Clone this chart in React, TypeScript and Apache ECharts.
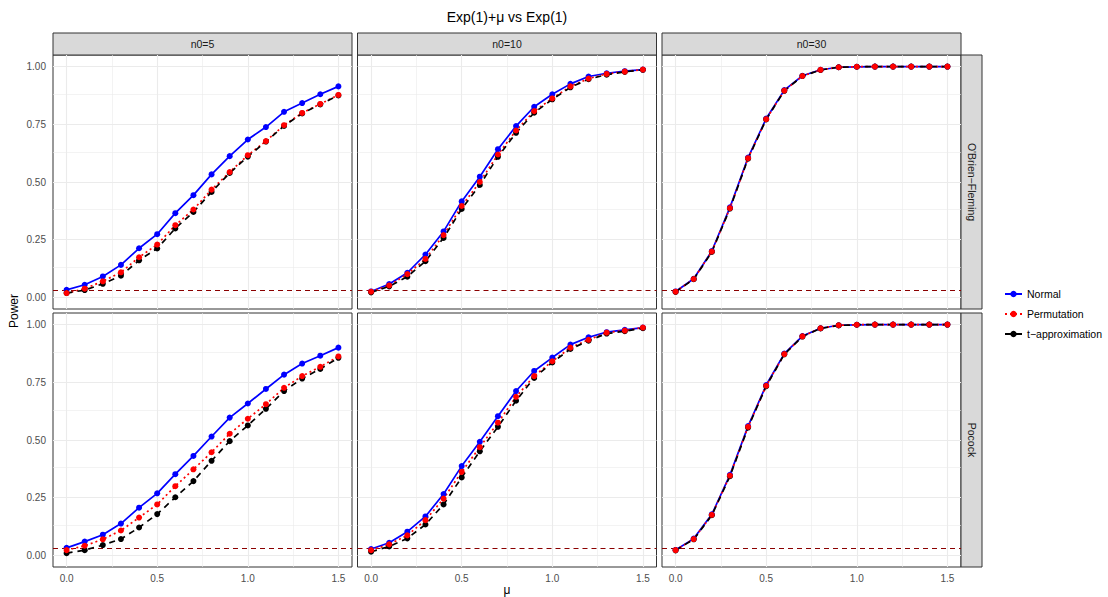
import React, { useEffect, useRef } from "react";
import * as echarts from "echarts";

const mu = [0, 0.1, 0.2, 0.3, 0.4, 0.5, 0.6, 0.7, 0.8, 0.9, 1.0, 1.1, 1.2, 1.3, 1.4, 1.5];
const xTicks = [0, 0.5, 1, 1.5];
const yTicks = [0, 0.25, 0.5, 0.75, 1];
const methods = ["Normal", "Permutation", "t\u2212approximation"];
const colTitles = ["n0=5", "n0=10", "n0=30"];
const rowTitles = ["O'Brien\u2212Fleming", "Pocock"];

const obf5Normal = [0.033, 0.055, 0.091, 0.141, 0.213, 0.274, 0.365, 0.443, 0.533, 0.612, 0.684, 0.738, 0.804, 0.842, 0.880, 0.914];
const obf5Perm = [0.019, 0.038, 0.070, 0.109, 0.174, 0.229, 0.313, 0.381, 0.467, 0.543, 0.616, 0.677, 0.746, 0.799, 0.838, 0.877];
const obf5T = [0.019, 0.032, 0.059, 0.094, 0.161, 0.212, 0.299, 0.370, 0.457, 0.539, 0.610, 0.675, 0.743, 0.797, 0.836, 0.875];

const obf10Normal = [0.026, 0.058, 0.107, 0.186, 0.286, 0.416, 0.523, 0.642, 0.742, 0.826, 0.880, 0.925, 0.957, 0.971, 0.980, 0.987];
const obf10Perm = [0.025, 0.052, 0.101, 0.167, 0.270, 0.396, 0.500, 0.619, 0.723, 0.807, 0.862, 0.914, 0.948, 0.968, 0.978, 0.987];
const obf10T = [0.022, 0.048, 0.090, 0.157, 0.258, 0.383, 0.487, 0.609, 0.713, 0.800, 0.858, 0.910, 0.945, 0.965, 0.977, 0.986];

const obf30Normal = [0.026, 0.081, 0.201, 0.390, 0.606, 0.775, 0.898, 0.960, 0.986, 0.997, 0.999, 1.0, 1.0, 1.0, 1.0, 1.0];
const obf30Perm = [0.025, 0.080, 0.199, 0.387, 0.603, 0.772, 0.896, 0.959, 0.986, 0.997, 0.999, 1.0, 1.0, 1.0, 1.0, 1.0];
const obf30T = [0.024, 0.079, 0.197, 0.385, 0.601, 0.771, 0.895, 0.959, 0.985, 0.997, 0.999, 1.0, 1.0, 1.0, 1.0, 1.0];

const poc5Normal = [0.033, 0.060, 0.090, 0.138, 0.207, 0.269, 0.352, 0.431, 0.515, 0.597, 0.658, 0.721, 0.783, 0.831, 0.865, 0.900];
const poc5Perm = [0.023, 0.042, 0.070, 0.108, 0.164, 0.221, 0.300, 0.373, 0.447, 0.527, 0.592, 0.655, 0.726, 0.777, 0.817, 0.862];
const poc5T = [0.010, 0.023, 0.045, 0.071, 0.121, 0.179, 0.252, 0.322, 0.410, 0.495, 0.563, 0.635, 0.712, 0.766, 0.808, 0.856];

const poc10Normal = [0.028, 0.055, 0.103, 0.169, 0.266, 0.387, 0.492, 0.603, 0.712, 0.799, 0.857, 0.913, 0.945, 0.967, 0.977, 0.987];
const poc10Perm = [0.023, 0.048, 0.087, 0.153, 0.246, 0.362, 0.469, 0.575, 0.687, 0.777, 0.841, 0.900, 0.934, 0.965, 0.974, 0.987];
const poc10T = [0.016, 0.039, 0.074, 0.134, 0.221, 0.338, 0.451, 0.557, 0.670, 0.769, 0.836, 0.894, 0.930, 0.961, 0.971, 0.984];

const poc30Normal = [0.024, 0.073, 0.178, 0.349, 0.560, 0.738, 0.874, 0.950, 0.984, 0.997, 0.999, 1.0, 1.0, 1.0, 1.0, 1.0];
const poc30Perm = [0.023, 0.071, 0.176, 0.346, 0.557, 0.735, 0.872, 0.949, 0.984, 0.997, 0.999, 1.0, 1.0, 1.0, 1.0, 1.0];
const poc30T = [0.022, 0.070, 0.174, 0.343, 0.554, 0.733, 0.871, 0.948, 0.983, 0.996, 0.999, 1.0, 1.0, 1.0, 1.0, 1.0];

const alphaLevel = 0.025;

const panelData = [
  [obf5Normal, obf5Perm, obf5T],
  [obf10Normal, obf10Perm, obf10T],
  [obf30Normal, obf30Perm, obf30T],
  [poc5Normal, poc5Perm, poc5T],
  [poc10Normal, poc10Perm, poc10T],
  [poc30Normal, poc30Perm, poc30T],
];

const FONT = "'Liberation Sans', Arial, Helvetica, sans-serif";
const colLeft = [53, 357.5, 662];
const colWidth = 299;
const rowTop = [55, 313];
const rowHeight = 254;
const stripTop = 33;
const stripH = 22;
const rStripX = 961;
const rStripW = 21;

const methodStyle = [
  { color: "#0000FF", type: "solid" as any },
  { color: "#FF0000", type: [2, 3] as any },
  { color: "#000000", type: [6, 5] as any },
];

export default function App() {
  const ref = useRef<HTMLDivElement>(null);
  useEffect(() => {
    if (!ref.current) return;
    const chart = echarts.init(ref.current, null, { renderer: "svg" });

    const grids: any[] = [];
    const xAxes: any[] = [];
    const yAxes: any[] = [];
    const series: any[] = [];
    const lineSeries: any[] = [];
    const pointSeries: any[] = [];

    for (let i = 0; i < 6; i++) {
      const row = Math.floor(i / 3);
      const col = i % 3;
      grids.push({
        left: colLeft[col],
        top: rowTop[row],
        width: colWidth,
        height: rowHeight,
        show: true,
        backgroundColor: "#FFFFFF",
        borderColor: "#333333",
        borderWidth: 1,
        containLabel: false,
      });
      const bottom = row === 1;
      const left = col === 0;
      xAxes.push({
        type: "value",
        gridIndex: i,
        min: -0.075,
        max: 1.575,
        axisLine: { show: false },
        splitLine: { show: false },
        axisTick: {
          show: bottom,
          customValues: xTicks,
          length: 4,
          lineStyle: { color: "#333333", width: 1 },
        },
        axisLabel: {
          show: bottom,
          customValues: xTicks,
          formatter: (v: number) => v.toFixed(1),
          color: "#4D4D4D",
          fontSize: 10,
          fontFamily: FONT,
          margin: 6,
        },
      });
      yAxes.push({
        type: "value",
        gridIndex: i,
        min: -0.05,
        max: 1.05,
        axisLine: { show: false },
        splitLine: { show: false },
        axisTick: {
          show: left,
          customValues: yTicks,
          length: 4,
          lineStyle: { color: "#333333", width: 1 },
        },
        axisLabel: {
          show: left,
          customValues: yTicks,
          formatter: (v: number) => v.toFixed(2),
          color: "#4D4D4D",
          fontSize: 10,
          fontFamily: FONT,
          margin: 7,
        },
      });

      const gridLines: any[] = [];
      [0, 0.5, 1, 1.5].forEach((v) => gridLines.push({ xAxis: v, lineStyle: { color: "#EBEBEB", width: 1.1, type: "solid" } }));
      [0.25, 0.75, 1.25].forEach((v) => gridLines.push({ xAxis: v, lineStyle: { color: "#EBEBEB", width: 0.6, type: "solid" } }));
      yTicks.forEach((v) => gridLines.push({ yAxis: v, lineStyle: { color: "#EBEBEB", width: 1.1, type: "solid" } }));
      [0.125, 0.375, 0.625, 0.875].forEach((v) => gridLines.push({ yAxis: v, lineStyle: { color: "#EBEBEB", width: 0.6, type: "solid" } }));
      gridLines.push({ yAxis: alphaLevel, lineStyle: { color: "#8B0000", width: 1.1, type: [5, 4] } });

      series.push({
        type: "line",
        name: "__grid" + i,
        xAxisIndex: i,
        yAxisIndex: i,
        data: [[0, 0]],
        symbol: "none",
        lineStyle: { opacity: 0 },
        silent: true,
        z: 1,
        markLine: {
          silent: true,
          symbol: ["none", "none"],
          label: { show: false },
          animation: false,
          z: 1,
          data: gridLines,
        },
      });

      const data = panelData[i];
      for (let m = 0; m < 3; m++) {
        lineSeries.push({
          type: "line",
          name: methods[m],
          xAxisIndex: i,
          yAxisIndex: i,
          data: mu.map((x, k) => [x, data[m][k]]),
          symbol: "circle",
          symbolSize: 6,
          showSymbol: false,
          color: methodStyle[m].color,
          lineStyle: { color: methodStyle[m].color, width: 1.7, type: methodStyle[m].type },
          z: 2 + m * 0.1,
          silent: true,
        });
      }
      const pointOrder = [0, 2, 1];
      for (const m of pointOrder) {
        pointSeries.push({
          type: "scatter",
          name: methods[m],
          xAxisIndex: i,
          yAxisIndex: i,
          data: mu.map((x, k) => [x, data[m][k]]),
          symbol: "circle",
          symbolSize: 6,
          itemStyle: { color: methodStyle[m].color, opacity: 1 },
          z: 3 + (m === 1 ? 0.2 : m === 2 ? 0.1 : 0),
          silent: true,
        });
      }
    }

    const graphics: any[] = [];
    graphics.push({
      type: "text",
      x: 507,
      y: 17,
      style: { text: "Exp(1)+\u03bc vs Exp(1)", fontSize: 14, fontFamily: FONT, fill: "#000000", align: "center", verticalAlign: "middle" },
    });
    for (let c = 0; c < 3; c++) {
      graphics.push({
        type: "rect",
        shape: { x: colLeft[c], y: stripTop, width: colWidth, height: stripH },
        style: { fill: "#D9D9D9", stroke: "#333333", lineWidth: 1 },
      });
      graphics.push({
        type: "text",
        x: colLeft[c] + colWidth / 2,
        y: stripTop + stripH / 2,
        style: { text: colTitles[c], fontSize: 10.5, fontFamily: FONT, fill: "#1A1A1A", align: "center", verticalAlign: "middle" },
      });
    }
    for (let r = 0; r < 2; r++) {
      graphics.push({
        type: "rect",
        shape: { x: rStripX, y: rowTop[r], width: rStripW, height: rowHeight },
        style: { fill: "#D9D9D9", stroke: "#333333", lineWidth: 1 },
      });
      graphics.push({
        type: "text",
        x: rStripX + rStripW / 2,
        y: rowTop[r] + rowHeight / 2,
        rotation: -Math.PI / 2,
        style: { text: rowTitles[r], fontSize: 10.5, fontFamily: FONT, fill: "#1A1A1A", align: "center", verticalAlign: "middle" },
      });
    }
    graphics.push({
      type: "text",
      x: 14,
      y: 311,
      rotation: Math.PI / 2,
      style: { text: "Power", fontSize: 12, fontFamily: FONT, fill: "#000000", align: "center", verticalAlign: "middle" },
    });
    graphics.push({
      type: "text",
      x: 507,
      y: 590,
      style: { text: "\u03bc", fontSize: 12, fontFamily: FONT, fill: "#000000", align: "center", verticalAlign: "middle" },
    });

    chart.setOption({
      animation: false,
      backgroundColor: "#FFFFFF",
      grid: grids,
      xAxis: xAxes,
      yAxis: yAxes,
      legend: {
        data: methods,
        orient: "vertical",
        left: 1004,
        top: 288,
        padding: 0,
        itemWidth: 17,
        itemHeight: 8,
        itemGap: 8,
        itemTextGap: 8,
        selectedMode: false,
        textStyle: { fontSize: 10.5, fontFamily: FONT, color: "#000000", lineHeight: 12 },
      },
      series: [...series, ...lineSeries, ...pointSeries],
      graphic: graphics,
    });

    return () => chart.dispose();
  }, []);

  return <div ref={ref} style={{ position: "absolute", left: 0, top: 0, width: 1108, height: 597 }} />;
}
